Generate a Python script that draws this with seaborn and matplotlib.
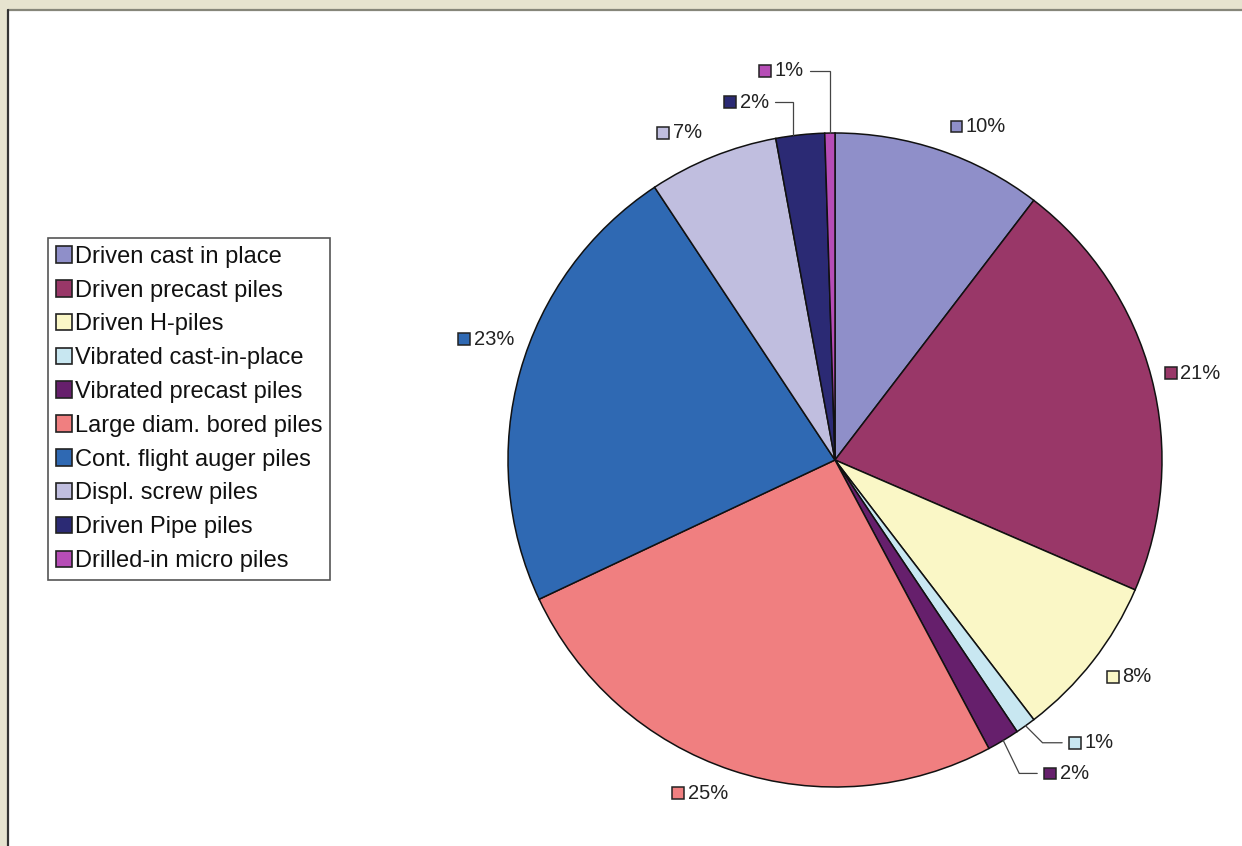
import numpy as np
import matplotlib
matplotlib.use("Agg")
import matplotlib.pyplot as plt
import seaborn as sns
from matplotlib.patches import Patch, Rectangle
from matplotlib.lines import Line2D
from matplotlib.offsetbox import DrawingArea, TextArea, HPacker, AnnotationBbox

# ----- pile types and their share of the market -----
categories = [
    'Driven cast in place', 'Driven precast piles', 'Driven H-piles',
    'Vibrated cast-in-place', 'Vibrated precast piles', 'Large diam. bored piles',
    'Cont. flight auger piles', 'Displ. screw piles', 'Driven Pipe piles',
    'Drilled-in micro piles'
]
shares = [10.4, 21.1, 8.1, 1.0, 1.6, 25.8, 22.7, 6.4, 2.4, 0.5]
pct_labels = ['10%', '21%', '8%', '1%', '2%', '25%', '23%', '7%', '2%', '1%']
colors = ['#8F8FC9', '#993768', '#FAF7C6', '#C8E7F1', '#661F6C',
          '#F07F80', '#2F69B3', '#C0BEDF', '#2B2A74', '#B64DB6']

sns.set_theme(style='white')
plt.rcParams['font.family'] = ['Liberation Sans', 'DejaVu Sans']

W, H = 1242, 846
fig = plt.figure(figsize=(W / 100, H / 100), dpi=100)
fig.patch.set_facecolor('#E6E3CF')

# white panel with its top/left border (the box is cut off on the right and bottom)
fig.add_artist(Rectangle((8 / W, -0.1), 1.2, 1.1 - 10 / H, transform=fig.transFigure,
                         facecolor='white', edgecolor='none', zorder=0))
fig.add_artist(Line2D([8 / W, 1], [1 - 10 / H] * 2, transform=fig.transFigure,
                      color='#86867A', lw=1.6))
fig.add_artist(Line2D([8 / W] * 2, [0, 1 - 10 / H], transform=fig.transFigure,
                      color='#333333', lw=1.6))

# axes spans the figure; pie centre / radius set through the limits
cx, cy, R = 835, 460, 327
ax = fig.add_axes([0, 0, 1, 1])
ax.patch.set_visible(False)

wedges, _ = ax.pie(shares, colors=colors, startangle=90, counterclock=False,
                   radius=1.0, wedgeprops=dict(edgecolor='#111111', linewidth=1.1))
ax.set_xlim(-cx / R, (W - cx) / R)
ax.set_ylim((cy - H) / R, cy / R)
ax.set_aspect('auto')
ax.axis('off')


def tag(color, text):
    da = DrawingArea(9.5, 9.5, 0, 0)
    da.add_artist(Rectangle((0.5, 0.5), 8.5, 8.5, facecolor=color,
                            edgecolor='#222222', linewidth=1.1))
    ta = TextArea(text, textprops=dict(fontsize=14.5, color='#222222'))
    return HPacker(children=[da, ta], align='center', pad=0, sep=2)


# leader lines for the thin slices: (first leg dx, dy), horizontal leg dx
leaders = {3: (0.052, -0.052, 0.06), 4: (0.049, -0.101, 0.055),
           8: (0.0, 0.10, -0.055), 9: (0.0, 0.19, -0.06)}
leader_start_shift = {8: -0.021}
# outside labels: (angle nudge in degrees, clockwise; radius)
label_place = {0: (4.5, 1.11), 1: (0.9, 1.124), 2: (-1.6, 1.117),
               5: (3.7, 1.10), 6: (3.4, 1.13), 7: (-3.5, 1.108)}

for i, w in enumerate(wedges):
    mid = (w.theta1 + w.theta2) / 2
    if i in leaders:
        ang = np.deg2rad(mid)
        x0, y0 = np.cos(ang) + leader_start_shift.get(i, 0), np.sin(ang)
        dx1, dy1, dx2 = leaders[i]
        xs = [x0, x0 + dx1, x0 + dx1 + dx2]
        ys = [y0, y0 + dy1, y0 + dy1]
        ax.plot(xs, ys, color='#444444', lw=0.9, solid_joinstyle='miter')
        align = (0, 0.5) if dx2 > 0 else (1, 0.5)
        gap = 0.02 if dx2 > 0 else -0.02
        ab = AnnotationBbox(tag(colors[i], pct_labels[i]), (xs[-1] + gap, ys[-1]),
                            frameon=False, box_alignment=align)
    else:
        nudge, r = label_place[i]
        ang = np.deg2rad(mid - nudge)
        ab = AnnotationBbox(tag(colors[i], pct_labels[i]),
                            (r * np.cos(ang), r * np.sin(ang)),
                            frameon=False, box_alignment=(0.5, 0.5))
    ax.add_artist(ab)

handles = [Patch(facecolor=c, edgecolor='#222222', linewidth=1.2) for c in colors]
leg = ax.legend(handles, categories, loc='upper left',
                bbox_to_anchor=(48 / W, 1 - 238 / H), bbox_transform=fig.transFigure,
                fontsize=17, frameon=True, fancybox=False, shadow=False,
                edgecolor='#555555', framealpha=1, borderaxespad=0,
                handlelength=0.7, handleheight=0.7, handletextpad=0.12,
                labelspacing=0.5, borderpad=0.33)
leg.get_frame().set_linewidth(1.2)
for t in leg.get_texts():
    t.set_color('#111111')

fig.savefig('out.png', dpi=100, facecolor=fig.get_facecolor())
